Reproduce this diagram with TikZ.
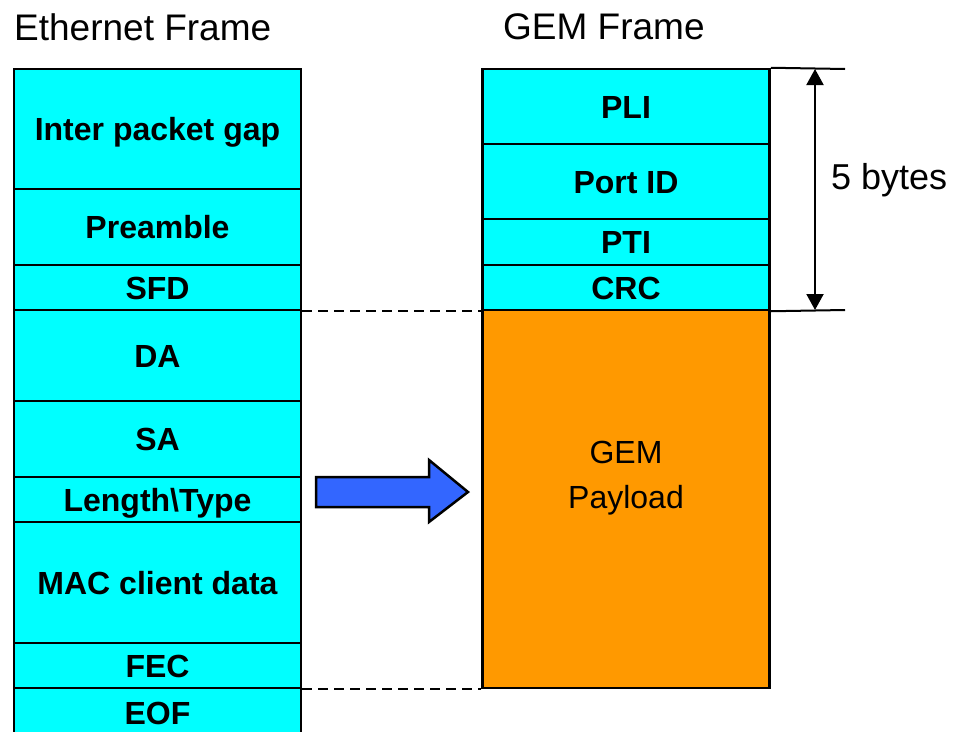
\documentclass[tikz,border=0pt]{standalone}
\usepackage{fontspec}
\setmainfont{Liberation Sans}
\usetikzlibrary{arrows.meta}
\definecolor{segcyan}{HTML}{00FFFF}
\definecolor{payorange}{HTML}{FF9900}
\definecolor{arrblue}{HTML}{3366FF}
\tikzset{
  seg/.style={draw=black, line width=2.5pt, fill=segcyan, minimum width=287pt, inner sep=0pt,
    font=\fontsize{32}{38}\selectfont\bfseries, text height=23pt, text depth=0pt},
  title/.style={font=\fontsize{37}{42}\selectfont, anchor=west, inner sep=0pt},
  guide/.style={line width=2.3pt, dash pattern=on 10pt off 6pt},
  dimline/.style={line width=2pt},
}
\begin{document}
\begin{tikzpicture}[x=1pt,y=-1pt]
\useasboundingbox (0,0) rectangle (953,731);
\clip (0,0) rectangle (953,731);
\fill[white] (0,0) rectangle (953,731);

% titles
\node[title] (ethtitle) at (14,27) {Ethernet Frame};
\node[title] (gemtitle) at (503,27) {GEM Frame};

% Ethernet frame segments
\node[seg, minimum height=120pt] (ipg)  at (157.5,129)   {Inter packet gap};
\node[seg, minimum height=76pt]  (pre)  at (157.5,227)   {Preamble};
\node[seg, minimum height=45pt]  (sfd)  at (157.5,287.5) {SFD};
\node[seg, minimum height=91pt]  (da)   at (157.5,355.5) {DA};
\node[seg, minimum height=76pt]  (sa)   at (157.5,439)   {SA};
\node[seg, minimum height=45pt]  (lt)   at (157.5,499.5) {Length\textbackslash Type};
\node[seg, minimum height=121pt] (mac)  at (157.5,582.5) {MAC client data};
\node[seg, minimum height=45pt]  (fec)  at (157.5,665.5) {FEC};
\node[seg, minimum height=50pt]  (eof)  at (157.5,713)   {EOF};

% GEM frame segments
\node[seg, minimum height=75pt]  (pli)  at (626,106.5) {PLI};
\node[seg, minimum height=75pt]  (port) at (626,181.5) {Port ID};
\node[seg, minimum height=46pt]  (pti)  at (626,242)   {PTI};
\node[seg, minimum height=45pt]  (crc)  at (626,287.5) {CRC};
\node[draw=black, line width=2.5pt, fill=payorange, minimum width=287pt, minimum height=378pt, inner sep=0pt] (pay) at (626,499) {};
\node[font=\fontsize{32}{45}\selectfont, align=center, inner sep=0pt] (paytext) at (626,478) {GEM\\Payload};

% dashed guides
\draw[guide] (sfd.south east) -- (crc.south west);
\draw[guide] (fec.south east) -- (pay.south west);

% dimension for header
\coordinate (dimtopend) at (845,69);
\coordinate (dimbotend) at (845,310);
\coordinate (dimtop) at (815,69);
\coordinate (dimbot) at (815,310);
\draw[dimline] (pli.north east) -- (dimtopend);
\draw[dimline] (crc.south east) -- (dimbotend);
\draw[dimline, {Triangle[length=16pt,width=17pt]}-{Triangle[length=16pt,width=17pt]}] (dimtop) -- (dimbot);
\node[font=\fontsize{36}{42}\selectfont, anchor=west, inner sep=0pt] (bytes) at (831,180) {5 bytes};

% block arrow
\draw[line width=2.5pt, fill=arrblue, line join=miter]
  (316,477) -- (429,477) -- (429,460) -- (468,492) -- (429,522) -- (429,507) -- (316,507) -- cycle;
\end{tikzpicture}
\end{document}
